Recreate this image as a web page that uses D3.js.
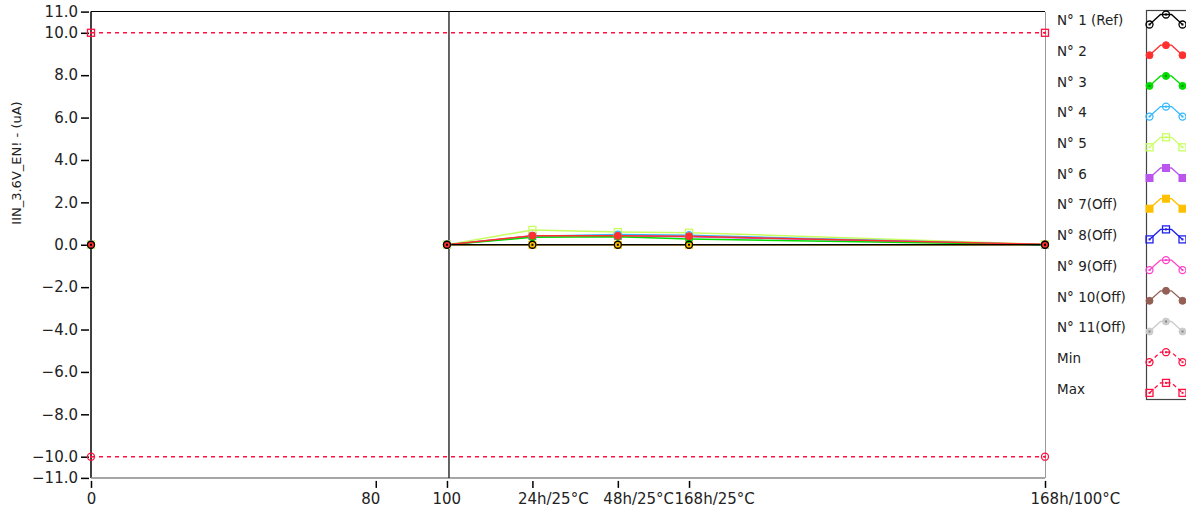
<!DOCTYPE html>
<html><head><meta charset="utf-8">
<script src="https://cdn.jsdelivr.net/npm/d3@7"></script>
<style>
html,body{margin:0;padding:0;background:#fff;}
svg{display:block;font-family:"DejaVu Sans",sans-serif;}
</style></head>
<body><svg id="c" width="1186" height="513"></svg>
<script>
// ---- data ----
const xPositions = [0, 80, 100, 124, 148, 168, 268];
const xTickValues = [0, 80, 100, 124, 148, 168, 268];
const xTickLabels = ["0", "80", "100", "24h/25°C", "48h/25°C", "168h/25°C", "168h/100°C"];
const yTickValues = [11, 10, 8, 6, 4, 2, 0, -2, -4, -6, -8, -10, -11];
const seriesNames = ["N° 1 (Ref)", "N° 2", "N° 3", "N° 4", "N° 5", "N° 6", "N° 7(Off)", "N° 8(Off)", "N° 9(Off)", "N° 10(Off)", "N° 11(Off)", "Min", "Max"];
const n1  = [0, null, 0, 0, 0, 0, 0];
const n2  = [0, null, 0, 0.43, 0.42, 0.40, 0.02];
const n3  = [0, null, 0, 0.35, 0.38, 0.27, 0];
const n4  = [0, null, 0, 0.40, 0.48, 0.45, 0];
const n5  = [0, null, 0, 0.70, 0.60, 0.57, 0.02];
const n6  = [0, null, 0, 0.42, 0.42, 0.38, 0];
const n7  = [0, null, 0, 0, 0, 0, 0];
const n8  = [null, null, null, null, null, null, null];
const n9  = [null, null, null, null, null, null, null];
const n10 = [null, null, null, null, null, null, null];
const n11 = [null, null, null, null, null, null, null];
const minLimit = [-10, null, null, null, null, null, -10];
const maxLimit = [10, null, null, null, null, null, 10];
const refLineX = 100;

// ---- styles ----
const styles = [
  {c:"#000000", m:"circle", fill:false, dot:true},
  {c:"#ff3030", m:"circle", fill:true},
  {c:"#00dd00", m:"circle", fill:true, dot:true},
  {c:"#33b8ff", m:"circle", fill:false, dot:true},
  {c:"#c8ff60", m:"square", fill:false, dot:true},
  {c:"#bb55ee", m:"square", fill:true},
  {c:"#ffc000", m:"square", fill:true},
  {c:"#2020ee", m:"square", fill:false, dot:true},
  {c:"#ff40cc", m:"circle", fill:false, dot:true},
  {c:"#946055", m:"circle", fill:true},
  {c:"#cccccc", m:"circle", fill:true, dot:true},
  {c:"#ff1040", m:"circle", fill:false, dot:true, dash:true},
  {c:"#ff1040", m:"square", fill:false, dot:true, dash:true}
];
const allSeries = [n1,n2,n3,n4,n5,n6,n7,n8,n9,n10,n11,minLimit,maxLimit];

const svg = d3.select("#c");
const L = 91, R = 1045, T = 11.6, B = 477.9;
const x = d3.scaleLinear().domain([0, 268]).range([L, R]);
const y = d3.scaleLinear().domain([-11, 11]).range([B, T]);
const fontSize = "15px";

// frame
svg.append("line").attr("x1",L).attr("x2",R).attr("y1",T).attr("y2",T).attr("stroke","#000").attr("shape-rendering","crispEdges");
svg.append("line").attr("x1",R).attr("x2",R).attr("y1",T).attr("y2",B).attr("stroke","#999").attr("shape-rendering","crispEdges");

// axes
const yAxis = d3.axisLeft(y).tickValues(yTickValues).tickFormat(d3.format(".1f")).tickSizeInner(8).tickSizeOuter(0).tickPadding(3);
const gy = svg.append("g").attr("transform",`translate(${L-2},0)`).call(yAxis);
gy.select(".domain").remove();
gy.selectAll("text").attr("font-size",fontSize).attr("font-family","DejaVu Sans").attr("fill","#222");
gy.selectAll("line").attr("stroke","#000").attr("stroke-width",1.5);
svg.append("line").attr("x1",L).attr("x2",L).attr("y1",T).attr("y2",B).attr("stroke","#000").attr("stroke-width",1.5);
svg.append("line").attr("x1",L).attr("x2",R).attr("y1",B).attr("y2",B).attr("stroke","#888").attr("stroke-width",1.5);

const xAxis = d3.axisBottom(x).tickValues(xTickValues).tickFormat((d,i)=>xTickLabels[i]).tickSizeInner(7).tickSizeOuter(0).tickPadding(5);
const gx = svg.append("g").attr("transform",`translate(0,${B+3})`).call(xAxis);
gx.select(".domain").remove();
gx.selectAll("line").attr("stroke","#000").attr("stroke-width",1.5);
gx.selectAll(".tick text")
  .attr("font-size",fontSize).attr("font-family","DejaVu Sans").attr("fill","#222")
  .attr("text-anchor", (d,i)=> xTickLabels[i].length > 1 ? "start" : "middle")
  .attr("x", (d,i)=> xTickLabels[i].length > 1 ? -15 : 0);
// white backing so later labels clip earlier ones
gx.selectAll(".tick").each(function(d,i){
  const t = d3.select(this).select("text");
  const bb = t.node().getBBox();
  d3.select(this).insert("rect","text").attr("x",bb.x-1).attr("y",bb.y).attr("width",bb.width+1).attr("height",bb.height).attr("fill","#fff");
});

// y title
svg.append("text").attr("transform","translate(21,163) rotate(-90)").attr("text-anchor","middle")
  .attr("font-size","13px").attr("fill","#222").text("IIN_3.6V_EN! - (uA)");

// reference vertical line
svg.append("line").attr("x1",x(refLineX)+2).attr("x2",x(refLineX)+2).attr("y1",T).attr("y2",B).attr("stroke","#333").attr("stroke-width",1.5);

function marker(g, cx, cy, s, size){
  const r = size/2;
  let el;
  if (s.m === "circle") el = g.append("circle").attr("cx",cx).attr("cy",cy).attr("r",r);
  else el = g.append("rect").attr("x",cx-r).attr("y",cy-r).attr("width",2*r).attr("height",2*r);
  el.attr("fill", s.fill ? s.c : "none").attr("stroke", s.c).attr("stroke-width", s.fill ? 1 : 1.3);
  if (s.dot) g.append("rect").attr("x",cx-1).attr("y",cy-1).attr("width",2).attr("height",2).attr("fill", s.fill ? "#000" : s.c).attr("opacity", s.fill?0.35:1);
}

// series (drawn in reverse order so N°1 is on top)
const lineGen = d3.line().defined(d=>d[1]!==null).x(d=>x(d[0])).y(d=>y(d[1]));
const order = d3.range(allSeries.length).reverse();
const plot = svg.append("g");
order.forEach(i=>{
  const s = styles[i];
  let pts = xPositions.map((xv,j)=>[xv, allSeries[i][j]]);
  let linePts = pts;
  if (s.dash) linePts = pts.filter(d=>d[1]!==null);
  else {
    // x=0 reading is isolated: break before x=100
    linePts = pts.map((d,j)=> j===0 ? [d[0], null] : d);
  }
  plot.append("path").datum(linePts).attr("d",lineGen).attr("fill","none")
    .attr("stroke",s.c).attr("stroke-width",1.5)
    .attr("stroke-dasharray", s.dash ? "4,4" : null);
});
order.forEach(i=>{
  const s = styles[i];
  const g = plot.append("g");
  xPositions.forEach((xv,j)=>{
    const v = allSeries[i][j];
    if (v===null) return;
    marker(g, x(xv), y(v), s, 7);
  });
});

// legend
const lg = svg.append("g");
const rowY0 = 20.5, rowH = 30.7;
lg.append("rect").attr("x",1146.5).attr("y",10.5).attr("width",60).attr("height",389).attr("fill","none").attr("stroke","#444").attr("stroke-width",1.2);
seriesNames.forEach((name,i)=>{
  const s = styles[i];
  const cy = rowY0 + i*rowH;
  lg.append("text").attr("x",1057).attr("y",cy).attr("dy","0.35em").attr("font-size","13.5px").attr("fill","#222").text(name);
  const x0 = 1149.5, yb = cy+4, yt = cy-6;
  const pts = [[x0,yb],[x0+11,yt],[x0+22,yt],[x0+33,yb]];
  lg.append("path").attr("d",d3.line()(pts)).attr("fill","none").attr("stroke",s.c).attr("stroke-width",1.3)
    .attr("stroke-dasharray", s.dash ? "4,3" : null);
  [[x0,yb],[x0+16.5,yt],[x0+33,yb]].forEach(p=>marker(lg,p[0],p[1],s,7));
});
</script>
</body></html>
